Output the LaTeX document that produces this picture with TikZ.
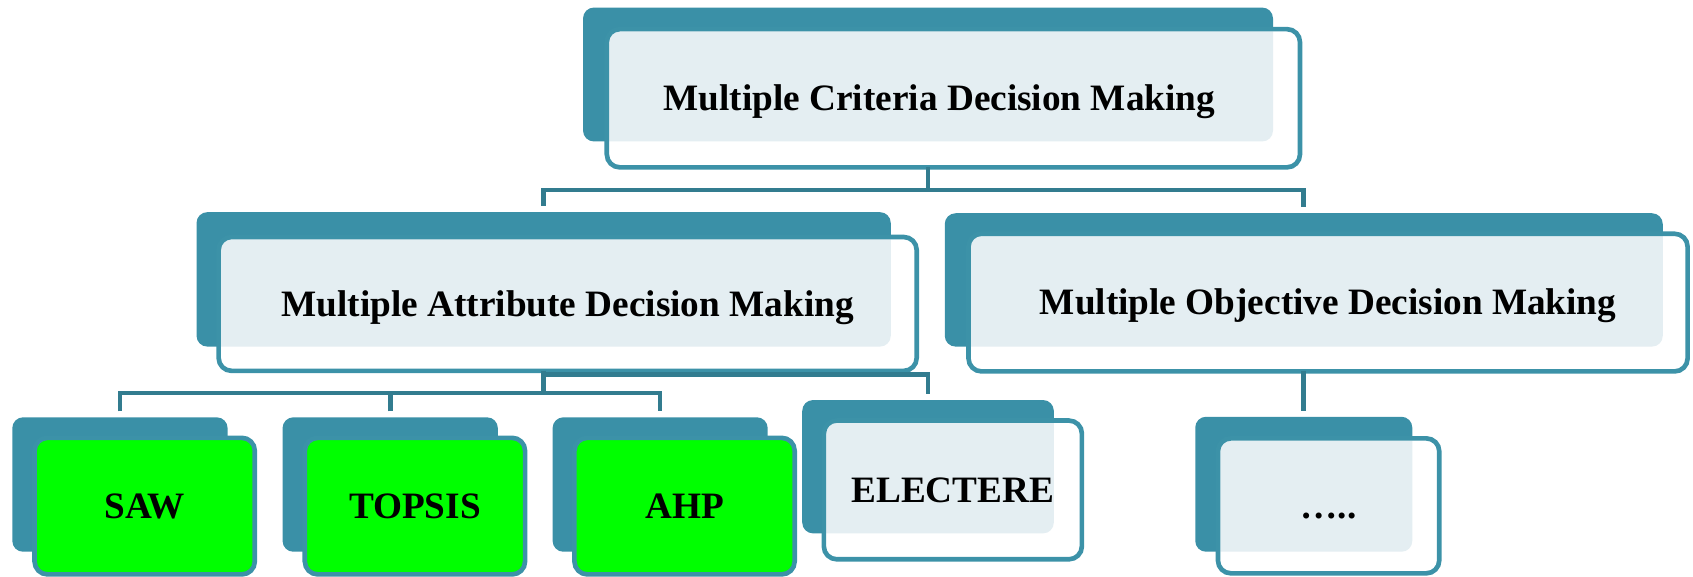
\documentclass[tikz,border=0pt]{standalone}
\usepackage{fontspec}
\setmainfont{Liberation Serif}
\definecolor{tealbk}{HTML}{3A90A7}
\definecolor{tealfr}{HTML}{3C92A8}
\definecolor{connc}{HTML}{327C8F}
\definecolor{patcol}{HTML}{E4EEF2}
\definecolor{boxgreen}{HTML}{00FF00}
\tikzset{
  backbox/.style={rectangle, rounded corners=10pt, fill=tealbk, draw=none, inner sep=0pt, outer sep=0pt},
  frontbox/.style={rectangle, rounded corners=12pt, draw=tealfr, line width=4.3pt, inner sep=0pt, outer sep=0pt,
    font=\fontsize{34.5}{40}\selectfont\bfseries, text height=22.8pt, text depth=0pt, align=center},
  conn/.style={draw=connc, line width=4.3pt}
}
\newcommand\backbox[5]{%
  \node[backbox, minimum width={#4-#2}, minimum height={#5-#3}] (#1b) at ({(#2+#4)/2},{(#3+#5)/2}) {};}
\newcommand\frontbox[9]{%
  \fill[#6, rounded corners=12pt] (#2,#3) rectangle (#4,#5);
  \begin{scope}
    \clip[rounded corners=10pt] ({#2+2.15},{#3+2.15}) rectangle ({#4-2.15},{#5-2.15});
    \fill[#7, rounded corners=10pt] (#1b.south west) rectangle (#1b.north east);
  \end{scope}
  \node[frontbox, minimum width={#4-#2}, minimum height={#5-#3}] (#1) at ({(#2+#4)/2},{(#3+#5)/2}) {#9};}
\begin{document}
\begin{tikzpicture}[x=1pt, y=-1pt]
\useasboundingbox (0,0) rectangle (1568,534.4);
% top
\backbox{mcdm}{540}{7}{1179}{131}
\frontbox{mcdm}{562}{27}{1204}{155}{white}{patcol}{}{\hspace*{-26pt}Multiple Criteria Decision Making}
% second level
\backbox{madm}{182}{196.5}{825}{321}
\frontbox{madm}{202.5}{219.5}{849}{343.5}{white}{patcol}{}{Multiple Attribute Decision Making}
\backbox{modm}{875}{197.5}{1540}{321}
\frontbox{modm}{897}{216.5}{1563}{344}{white}{patcol}{}{Multiple Objective Decision Making}
% third level
\backbox{saw}{11.4}{386.5}{210.8}{511}
\frontbox{saw}{32}{405.5}{236}{532}{boxgreen}{boxgreen}{}{SAW}
\backbox{topsis}{261.7}{386.5}{461.1}{511}
\frontbox{topsis}{282.3}{405.5}{486.3}{532}{boxgreen}{boxgreen}{}{TOPSIS}
\backbox{ahp}{511.8}{386.5}{711}{511}
\frontbox{ahp}{532}{405.5}{736}{532}{boxgreen}{boxgreen}{}{AHP}
\backbox{elect}{743}{370.5}{976}{494}
\frontbox{elect}{763}{389.5}{1002}{518}{white}{patcol}{}{ELECTERE}
\backbox{dots}{1107}{386}{1308}{511}
\frontbox{dots}{1128}{406}{1333}{531}{white}{patcol}{}{…..}
% levels
\coordinate (lvA) at (0,176);
\coordinate (lvB) at (0,364);
\coordinate (lvC) at (0,347);
% connectors
\draw[conn] (mcdmb.center |- mcdm.south) -- (mcdmb.center |- lvA);
\draw[conn] ([yshift=6pt]madmb.north) |- (lvA -| modmb.north) -- ([yshift=6pt]modmb.north);
\draw[conn] (madmb.center |- madm.south) -- (madmb.center |- lvB);
\draw[conn] ([yshift=5.5pt]sawb.north) |- (lvB -| ahpb.north) -- ([yshift=5.5pt]ahpb.north);
\draw[conn] ([yshift=5.5pt]topsisb.north) -- (topsisb.north |- lvB);
\draw[conn] (madmb.center |- lvC) -| ([yshift=6pt]electb.north);
\draw[conn] (modmb.center |- modm.south) -- ([yshift=5.5pt]dotsb.north);
\end{tikzpicture}
\end{document}
